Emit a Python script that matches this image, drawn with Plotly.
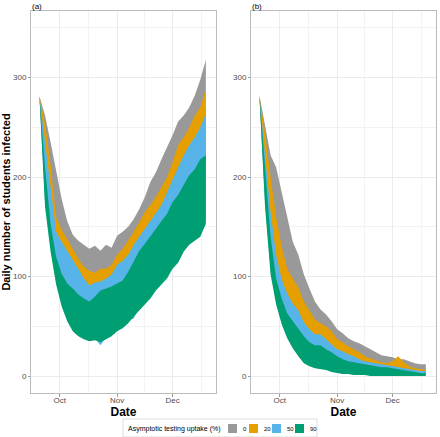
import plotly.graph_objects as go
import pandas as pd

# ---------------- data ----------------
day_offsets = [-11, -8, -5, -2, 1, 4, 7, 10, 13, 16, 19, 22, 25, 28, 31, 34, 37, 40,
               43, 46, 49, 52, 55, 58, 61, 64, 67, 70, 73, 76, 79]
origin = pd.Timestamp("2020-10-01")
dates = [origin + pd.Timedelta(days=d) for d in day_offsets]

uptake_labels = ["0", "20", "50", "90"]
colors = ["#999999", "#E69F00", "#56B4E9", "#009E73"]

# panel (a)
a_hi_0 = [281, 262, 235, 205, 178, 156, 142, 136, 132, 128, 131, 126, 132, 129, 141, 145, 150, 158,
          168, 180, 195, 205, 218, 230, 242, 256, 262, 270, 282, 298, 318]
a_lo_0 = [280, 190, 142, 108, 86, 70, 60, 54, 50, 48, 49, 48, 50, 53, 58, 62, 68, 75,
          82, 88, 95, 103, 110, 118, 128, 136, 146, 155, 160, 168, 180]
a_hi_20 = [281, 255, 212, 160, 147, 138, 128, 118, 110, 106, 104, 108, 108, 112, 122, 128, 136, 145,
           155, 165, 172, 180, 190, 200, 215, 232, 240, 250, 262, 270, 289]
a_lo_20 = [280, 185, 138, 103, 82, 66, 56, 50, 46, 44, 45, 44, 46, 49, 54, 58, 63, 70,
           77, 83, 90, 98, 105, 112, 122, 130, 140, 148, 153, 160, 172]
a_hi_50 = [281, 235, 185, 145, 135, 126, 118, 108, 98, 91, 94, 95, 98, 102, 112, 116, 122, 132,
           140, 148, 155, 163, 172, 185, 197, 210, 222, 232, 240, 250, 264]
a_lo_50 = [280, 175, 130, 96, 74, 58, 48, 43, 40, 37, 38, 31, 39, 42, 47, 51, 56, 58,
           69, 75, 81, 89, 95, 101, 111, 118, 128, 136, 140, 145, 158]
a_hi_90 = [281, 210, 153, 120, 103, 93, 88, 82, 78, 75, 80, 86, 88, 90, 93, 96, 105, 115,
           126, 133, 140, 148, 156, 163, 175, 182, 192, 202, 208, 218, 222]
a_lo_90 = [280, 170, 125, 92, 70, 55, 45, 40, 37, 35, 36, 34, 37, 40, 45, 48, 53, 60,
           67, 72, 78, 86, 92, 98, 108, 114, 125, 132, 136, 140, 153]

# panel (b)
b_hi_0 = [282, 250, 222, 210, 185, 158, 135, 122, 102, 88, 75, 67, 62, 55, 47, 43, 38, 35,
          33, 30, 27, 24, 21, 20, 19, 17, 17, 15, 13, 12, 12]
b_lo_0 = [280, 188, 118, 85, 64, 49, 39, 31, 24, 20, 18, 16, 15, 13, 11, 9, 8, 7,
          6, 6, 5, 5, 5, 4, 4, 4, 4, 3, 3, 3, 3]
b_hi_20 = [281, 245, 200, 160, 130, 108, 98, 89, 75, 66, 57, 53, 50, 45, 37, 34, 30, 27,
           24, 20, 18, 16, 14, 13, 15, 20, 14, 10, 8, 7, 6]
b_lo_20 = [280, 182, 112, 80, 60, 45, 35, 27, 20, 16, 14, 13, 12, 10, 8, 7, 6, 5,
           5, 4, 4, 4, 3, 3, 3, 3, 3, 2, 2, 2, 2]
b_hi_50 = [281, 225, 165, 122, 97, 83, 73, 66, 54, 47, 42, 42, 37, 33, 27, 25, 22, 20,
           17, 15, 14, 13, 12, 11, 10, 9, 8, 7, 6, 5, 5]
b_lo_50 = [280, 175, 108, 76, 56, 42, 32, 24, 17, 13, 11, 10, 9, 7, 6, 5, 4, 3,
           3, 3, 2, 2, 2, 2, 2, 2, 1, 1, 1, 1, 1]
b_hi_90 = [281, 208, 140, 98, 78, 63, 55, 47, 40, 34, 31, 31, 27, 24, 20, 17, 15, 14,
           13, 12, 11, 10, 9, 9, 8, 7, 6, 5, 4, 3, 3]
b_lo_90 = [280, 170, 102, 72, 52, 38, 28, 20, 13, 10, 8, 7, 6, 4, 3, 2, 2, 1,
           1, 1, 0, 0, 0, 0, 0, 0, 0, 0, 0, 0, 0]

panel_labels = ["(a)", "(b)"]
month_ticks = ["2020-10-01", "2020-11-01", "2020-12-01"]
month_text = ["Oct", "Nov", "Dec"]
mid_ticks = ["2020-10-16 12:00", "2020-11-16", "2020-12-16 12:00"]
y_ticks = [0, 100, 200, 300]
y_minor = [50, 150, 250, 350]

# ---------------- figure ----------------
FONT = "Liberation Sans, Arial, sans-serif"
fig = go.Figure()

panels = [
    ("x", "y", [(a_lo_0, a_hi_0), (a_lo_20, a_hi_20), (a_lo_50, a_hi_50), (a_lo_90, a_hi_90)]),
    ("x2", "y2", [(b_lo_0, b_hi_0), (b_lo_20, b_hi_20), (b_lo_50, b_hi_50), (b_lo_90, b_hi_90)]),
]
for xa, ya, bands in panels:
    for (lo, hi), lab, col in zip(bands, uptake_labels, colors):
        fig.add_trace(go.Scatter(
            x=dates + dates[::-1], y=hi + lo[::-1],
            xaxis=xa, yaxis=ya, fill="toself", fillcolor=col,
            mode="lines", line=dict(width=0, color=col),
            name=lab, legendgroup=lab, showlegend=False, hoveron="fills"))

W, H = 440, 437
ml, mr, mt, mb = 31, 4, 11, 44
pw, ph = W - ml - mr, H - mt - mb


def px(xp):
    return (xp - ml) / pw


def py(yp):
    return (H - mb - yp) / ph


x_range = [origin + pd.Timedelta(days=-15.6), origin + pd.Timedelta(days=84.5)]

common_x = dict(
    range=x_range, type="date", tickmode="array", tickvals=month_ticks, ticktext=month_text,
    showgrid=True, gridcolor="#EBEBEB", gridwidth=0.8,
    minor=dict(tickmode="array", tickvals=mid_ticks, showgrid=True, gridcolor="#F3F3F3", gridwidth=0.5),
    showline=True, mirror=True, linecolor="#BBBBBB", linewidth=1,
    ticks="outside", ticklen=3, tickcolor="#999999", tickwidth=0.8,
    ticklabelstandoff=-4,
    tickfont=dict(family=FONT, size=8, color="#4D4D4D"),
    zeroline=False,
    title=dict(text="Date", font=dict(family=FONT, size=12, color="black", weight="bold"), standoff=0),
)
common_y = dict(
    range=[-17, 367], tickmode="array", tickvals=y_ticks,
    showgrid=True, gridcolor="#EBEBEB", gridwidth=0.8,
    minor=dict(tickmode="array", tickvals=y_minor, showgrid=True, gridcolor="#F3F3F3", gridwidth=0.5),
    showline=True, mirror=True, linecolor="#BBBBBB", linewidth=1,
    ticks="outside", ticklen=2, tickcolor="#999999", tickwidth=0.8,
    tickfont=dict(family=FONT, size=8, color="#4D4D4D"),
    zeroline=False,
)

fig.update_layout(
    width=W, height=H,
    margin=dict(l=ml, r=mr, t=mt, b=mb, autoexpand=False),
    paper_bgcolor="white", plot_bgcolor="white",
    showlegend=False,
    xaxis=dict(domain=[0, px(216)], anchor="y", **common_x),
    xaxis2=dict(domain=[px(251), 1], anchor="y2", **common_x),
    yaxis=dict(domain=[0, 1], anchor="x",
               title=dict(text="Daily number of students infected",
                          font=dict(family=FONT, size=11, color="black", weight="bold"), standoff=2),
               **common_y),
    yaxis2=dict(domain=[0, 1], anchor="x2", **common_y),
)

# panel tags
for lab, xp in zip(panel_labels, [31, 251]):
    fig.add_annotation(text=lab, xref="paper", yref="paper", x=px(xp), y=py(11),
                       xanchor="left", yanchor="bottom", yshift=-1, showarrow=False,
                       font=dict(family=FONT, size=8, color="black"), borderpad=0)

# legend drawn at the bottom
fig.add_shape(type="rect", xref="paper", yref="paper", x0=px(123), x1=px(317), y0=py(437), y1=py(419),
              line=dict(color="#DDDDDD", width=1), fillcolor="white", layer="above")
fig.add_annotation(text="Asymptotic testing uptake (%)", xref="paper", yref="paper",
                   x=px(126), y=py(428.5), xanchor="left", yanchor="middle", showarrow=False,
                   font=dict(family=FONT, size=7, color="black"))
sw_left = [228, 249, 272, 295]
lab_left = [241, 262, 285, 308]
for lab, col, sx, lx in zip(uptake_labels, colors, sw_left, lab_left):
    fig.add_shape(type="rect", xref="paper", yref="paper", x0=px(sx), x1=px(sx + 9),
                  y0=py(433), y1=py(424), line=dict(width=0), fillcolor=col, layer="above")
    fig.add_annotation(text=lab, xref="paper", yref="paper", x=px(lx), y=py(428.5),
                       xanchor="left", yanchor="middle", showarrow=False,
                       font=dict(family=FONT, size=6, color="black"))

fig.write_html("out.html", config={"displayModeBar": False},
               post_script="document.body.style.margin='0';document.body.style.overflow='hidden';")
